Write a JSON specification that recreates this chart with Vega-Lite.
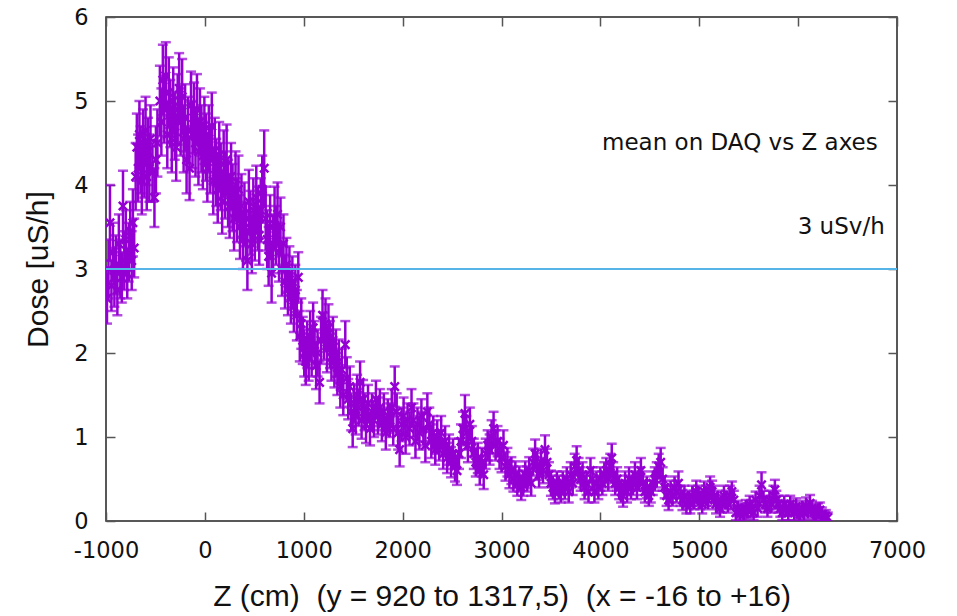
{
"$schema":"https://vega.github.io/schema/vega-lite/v6.json",
"width":791,"height":504,
"autosize":{"type":"none"},
"padding":{"left":106,"top":17,"right":60,"bottom":95},
"background":"white",
"config":{"view":{"stroke":"#222","strokeWidth":1.5},
"axis":{"domain":false,"grid":false,"tickSize":-9,"tickColor":"#555","tickWidth":1.5,"labelFlush":false,"labelFont":"DejaVu Sans","labelFontSize":22.5,"labelColor":"#111","titleFont":"Liberation Sans","titleFontSize":30,"titleFontWeight":"normal","titleColor":"#111"}},
"datasets":{"pts":[
{"z":-990,"d":2.65,"e":0.3},{"z":-975,"d":3.0,"e":0.35},{"z":-960,"d":3.55,"e":0.45},{"z":-945,"d":2.8,"e":0.3},{"z":-930,"d":3.2,"e":0.35},{"z":-915,"d":2.9,"e":0.35},{"z":-900,"d":3.05,"e":0.35},{"z":-885,"d":2.75,"e":0.3},{"z":-870,"d":3.3,"e":0.35},{"z":-855,"d":3.0,"e":0.35},{"z":-840,"d":2.9,"e":0.3},{"z":-828,"d":3.75,"e":0.42},{"z":-815,"d":3.1,"e":0.35},{"z":-800,"d":3.35,"e":0.35},{"z":-785,"d":2.95,"e":0.3},{"z":-770,"d":3.2,"e":0.35},{"z":-755,"d":3.45,"e":0.35},{"z":-740,"d":3.1,"e":0.35},{"z":-728,"d":3.55,"e":0.4},{"z":-715,"d":3.25,"e":0.35},
{"z":-700,"d":4.1,"e":0.4},{"z":-688,"d":4.45,"e":0.4},{"z":-675,"d":4.2,"e":0.4},{"z":-662,"d":4.6,"e":0.4},{"z":-650,"d":4.3,"e":0.4},{"z":-638,"d":4.05,"e":0.4},{"z":-625,"d":4.5,"e":0.4},{"z":-612,"d":4.25,"e":0.4},{"z":-600,"d":4.65,"e":0.4},{"z":-588,"d":4.1,"e":0.4},{"z":-575,"d":4.4,"e":0.4},{"z":-562,"d":4.2,"e":0.4},{"z":-550,"d":4.55,"e":0.4},{"z":-530,"d":4.15,"e":0.35},{"z":-510,"d":3.85,"e":0.35},{"z":-495,"d":4.3,"e":0.4},{"z":-480,"d":4.5,"e":0.4},
{"z":-455,"d":5.0,"e":0.42},{"z":-440,"d":4.75,"e":0.4},{"z":-425,"d":5.25,"e":0.42},{"z":-410,"d":4.9,"e":0.4},{"z":-395,"d":5.3,"e":0.4},{"z":-380,"d":4.6,"e":0.4},{"z":-365,"d":5.1,"e":0.42},{"z":-350,"d":4.85,"e":0.4},{"z":-335,"d":4.55,"e":0.4},{"z":-320,"d":5.0,"e":0.4},{"z":-305,"d":4.7,"e":0.4},{"z":-290,"d":4.45,"e":0.4},{"z":-275,"d":4.9,"e":0.42},{"z":-260,"d":5.15,"e":0.42},{"z":-245,"d":4.75,"e":0.4},{"z":-230,"d":5.05,"e":0.45},{"z":-215,"d":4.55,"e":0.4},{"z":-200,"d":4.8,"e":0.4},{"z":-185,"d":4.3,"e":0.4},{"z":-170,"d":4.65,"e":0.4},{"z":-155,"d":4.2,"e":0.38},{"z":-140,"d":4.95,"e":0.4},{"z":-125,"d":4.6,"e":0.4},{"z":-110,"d":4.8,"e":0.42},{"z":-95,"d":4.5,"e":0.4},{"z":-80,"d":4.9,"e":0.42},{"z":-65,"d":4.4,"e":0.4},{"z":-50,"d":4.75,"e":0.4},{"z":-35,"d":4.55,"e":0.4},{"z":-20,"d":4.35,"e":0.4},{"z":-5,"d":4.65,"e":0.4},
{"z":10,"d":4.45,"e":0.4},{"z":25,"d":4.2,"e":0.4},{"z":40,"d":4.55,"e":0.4},{"z":55,"d":4.3,"e":0.4},{"z":70,"d":4.7,"e":0.4},{"z":85,"d":4.05,"e":0.4},{"z":100,"d":4.4,"e":0.4},{"z":115,"d":4.15,"e":0.4},{"z":130,"d":3.95,"e":0.4},{"z":145,"d":4.35,"e":0.4},{"z":160,"d":4.1,"e":0.4},{"z":175,"d":3.8,"e":0.38},{"z":190,"d":4.25,"e":0.4},{"z":205,"d":4.0,"e":0.4},{"z":220,"d":4.3,"e":0.42},{"z":235,"d":3.9,"e":0.4},{"z":250,"d":3.75,"e":0.38},{"z":265,"d":4.1,"e":0.4},{"z":280,"d":3.85,"e":0.4},{"z":295,"d":3.6,"e":0.38},{"z":310,"d":4.0,"e":0.4},{"z":325,"d":3.7,"e":0.38},{"z":340,"d":3.95,"e":0.4},{"z":355,"d":3.5,"e":0.38},{"z":370,"d":3.75,"e":0.38},{"z":385,"d":3.35,"e":0.35},{"z":400,"d":3.65,"e":0.38},{"z":415,"d":3.45,"e":0.35},{"z":430,"d":3.1,"e":0.35},{"z":445,"d":3.8,"e":0.38},{"z":460,"d":3.55,"e":0.38},{"z":475,"d":3.3,"e":0.35},{"z":490,"d":3.7,"e":0.38},{"z":505,"d":3.45,"e":0.35},{"z":520,"d":3.85,"e":0.38},{"z":535,"d":3.6,"e":0.38},{"z":550,"d":3.4,"e":0.35},{"z":565,"d":3.7,"e":0.38},{"z":580,"d":3.95,"e":0.4},{"z":600,"d":4.2,"e":0.45},{"z":615,"d":3.6,"e":0.38},{"z":630,"d":3.35,"e":0.35},{"z":645,"d":3.15,"e":0.35},{"z":660,"d":3.5,"e":0.38},{"z":675,"d":2.95,"e":0.35},{"z":690,"d":3.3,"e":0.35},{"z":705,"d":3.6,"e":0.38},{"z":720,"d":3.4,"e":0.35},{"z":735,"d":3.65,"e":0.38},{"z":750,"d":3.2,"e":0.35},{"z":765,"d":3.5,"e":0.35},{"z":780,"d":3.0,"e":0.32},{"z":795,"d":3.3,"e":0.35},{"z":810,"d":2.85,"e":0.32},{"z":825,"d":3.05,"e":0.32},{"z":840,"d":2.75,"e":0.3},{"z":855,"d":2.95,"e":0.32},{"z":870,"d":2.65,"e":0.3},{"z":885,"d":2.85,"e":0.3},{"z":900,"d":2.55,"e":0.3},{"z":915,"d":2.75,"e":0.3},{"z":930,"d":2.45,"e":0.3},{"z":945,"d":2.9,"e":0.3},{"z":960,"d":2.2,"e":0.3},{"z":975,"d":2.35,"e":0.3},{"z":990,"d":2.15,"e":0.28},
{"z":1005,"d":2.0,"e":0.28},{"z":1020,"d":1.9,"e":0.28},{"z":1035,"d":2.1,"e":0.28},{"z":1050,"d":1.95,"e":0.28},{"z":1065,"d":2.2,"e":0.3},{"z":1080,"d":2.0,"e":0.28},{"z":1095,"d":2.3,"e":0.3},{"z":1110,"d":2.1,"e":0.28},{"z":1125,"d":1.85,"e":0.28},{"z":1140,"d":2.0,"e":0.28},{"z":1160,"d":1.65,"e":0.25},{"z":1175,"d":2.15,"e":0.28},{"z":1190,"d":2.45,"e":0.3},{"z":1205,"d":2.2,"e":0.28},{"z":1220,"d":2.35,"e":0.3},{"z":1235,"d":2.05,"e":0.28},{"z":1250,"d":2.3,"e":0.28},{"z":1265,"d":2.1,"e":0.28},{"z":1280,"d":1.95,"e":0.28},{"z":1295,"d":2.15,"e":0.28},{"z":1310,"d":1.85,"e":0.26},{"z":1325,"d":2.0,"e":0.28},{"z":1340,"d":1.75,"e":0.25},{"z":1355,"d":1.9,"e":0.26},{"z":1370,"d":1.6,"e":0.25},{"z":1385,"d":1.8,"e":0.25},{"z":1400,"d":1.5,"e":0.24},{"z":1420,"d":2.1,"e":0.28},{"z":1435,"d":1.7,"e":0.25},{"z":1450,"d":1.45,"e":0.24},{"z":1465,"d":1.6,"e":0.24},{"z":1480,"d":1.3,"e":0.22},{"z":1495,"d":1.1,"e":0.22},{"z":1510,"d":1.4,"e":0.23},{"z":1525,"d":1.25,"e":0.22},{"z":1540,"d":1.5,"e":0.24},{"z":1555,"d":1.35,"e":0.22},{"z":1570,"d":1.65,"e":0.25},{"z":1585,"d":1.2,"e":0.22},{"z":1600,"d":1.45,"e":0.23},{"z":1615,"d":1.3,"e":0.22},{"z":1630,"d":1.15,"e":0.22},{"z":1650,"d":1.4,"e":0.22},{"z":1670,"d":1.1,"e":0.2},{"z":1690,"d":1.3,"e":0.22},{"z":1710,"d":1.2,"e":0.2},{"z":1730,"d":1.45,"e":0.22},{"z":1750,"d":1.25,"e":0.22},{"z":1770,"d":1.35,"e":0.22},{"z":1790,"d":1.15,"e":0.2},{"z":1810,"d":1.3,"e":0.22},{"z":1830,"d":1.05,"e":0.2},{"z":1850,"d":1.25,"e":0.2},{"z":1870,"d":1.2,"e":0.2},{"z":1890,"d":1.35,"e":0.22},{"z":1905,"d":1.1,"e":0.2},{"z":1920,"d":1.6,"e":0.24},{"z":1940,"d":1.3,"e":0.22},{"z":1955,"d":1.05,"e":0.2},{"z":1970,"d":0.85,"e":0.2},{"z":1990,"d":1.15,"e":0.2},
{"z":2010,"d":1.25,"e":0.22},{"z":2030,"d":1.0,"e":0.2},{"z":2050,"d":1.2,"e":0.2},{"z":2070,"d":1.1,"e":0.2},{"z":2090,"d":1.35,"e":0.22},{"z":2110,"d":1.2,"e":0.2},{"z":2130,"d":0.95,"e":0.2},{"z":2150,"d":1.15,"e":0.2},{"z":2170,"d":1.05,"e":0.2},{"z":2190,"d":1.25,"e":0.2},{"z":2210,"d":1.1,"e":0.2},{"z":2230,"d":0.9,"e":0.2},{"z":2250,"d":1.3,"e":0.22},{"z":2270,"d":1.15,"e":0.2},{"z":2290,"d":0.95,"e":0.2},{"z":2310,"d":1.05,"e":0.2},{"z":2330,"d":0.85,"e":0.18},{"z":2350,"d":1.0,"e":0.2},{"z":2370,"d":0.9,"e":0.18},{"z":2390,"d":1.05,"e":0.2},{"z":2410,"d":0.8,"e":0.18},{"z":2430,"d":0.95,"e":0.18},{"z":2450,"d":0.75,"e":0.18},{"z":2470,"d":0.85,"e":0.18},{"z":2490,"d":0.7,"e":0.18},{"z":2510,"d":0.8,"e":0.18},{"z":2530,"d":0.65,"e":0.18},{"z":2550,"d":0.6,"e":0.17},{"z":2570,"d":0.8,"e":0.18},{"z":2590,"d":0.95,"e":0.2},{"z":2610,"d":1.1,"e":0.2},{"z":2630,"d":1.28,"e":0.22},{"z":2645,"d":1.05,"e":0.2},{"z":2660,"d":0.9,"e":0.2},{"z":2680,"d":1.15,"e":0.2},{"z":2700,"d":0.95,"e":0.18},{"z":2720,"d":0.8,"e":0.18},{"z":2740,"d":0.7,"e":0.17},{"z":2760,"d":0.75,"e":0.18},{"z":2780,"d":0.6,"e":0.17},{"z":2800,"d":0.7,"e":0.17},{"z":2820,"d":0.55,"e":0.17},{"z":2840,"d":0.8,"e":0.18},{"z":2860,"d":0.9,"e":0.18},{"z":2880,"d":0.85,"e":0.18},{"z":2900,"d":1.0,"e":0.2},{"z":2920,"d":1.1,"e":0.2},{"z":2940,"d":0.9,"e":0.18},{"z":2960,"d":0.95,"e":0.18},{"z":2980,"d":0.8,"e":0.18},
{"z":3000,"d":0.75,"e":0.17},{"z":3020,"d":0.9,"e":0.18},{"z":3040,"d":0.65,"e":0.17},{"z":3060,"d":0.7,"e":0.17},{"z":3080,"d":0.55,"e":0.16},{"z":3100,"d":0.6,"e":0.16},{"z":3120,"d":0.5,"e":0.15},{"z":3140,"d":0.55,"e":0.16},{"z":3160,"d":0.45,"e":0.15},{"z":3180,"d":0.5,"e":0.15},{"z":3200,"d":0.4,"e":0.15},{"z":3220,"d":0.45,"e":0.15},{"z":3240,"d":0.55,"e":0.16},{"z":3260,"d":0.5,"e":0.15},{"z":3280,"d":0.6,"e":0.16},{"z":3300,"d":0.45,"e":0.15},{"z":3320,"d":0.7,"e":0.16},{"z":3340,"d":0.8,"e":0.17},{"z":3360,"d":0.65,"e":0.16},{"z":3380,"d":0.55,"e":0.15},{"z":3400,"d":0.7,"e":0.16},{"z":3420,"d":0.6,"e":0.15},{"z":3440,"d":0.85,"e":0.17},{"z":3460,"d":0.7,"e":0.16},{"z":3480,"d":0.55,"e":0.15},{"z":3500,"d":0.45,"e":0.15},{"z":3520,"d":0.4,"e":0.14},{"z":3540,"d":0.35,"e":0.14},{"z":3560,"d":0.45,"e":0.14},{"z":3580,"d":0.4,"e":0.14},{"z":3600,"d":0.35,"e":0.13},{"z":3620,"d":0.45,"e":0.14},{"z":3640,"d":0.4,"e":0.14},{"z":3660,"d":0.5,"e":0.14},{"z":3680,"d":0.35,"e":0.13},{"z":3700,"d":0.55,"e":0.15},{"z":3720,"d":0.45,"e":0.14},{"z":3740,"d":0.65,"e":0.15},{"z":3760,"d":0.72,"e":0.17},{"z":3780,"d":0.6,"e":0.15},{"z":3800,"d":0.5,"e":0.14},{"z":3820,"d":0.55,"e":0.15},{"z":3840,"d":0.4,"e":0.14},{"z":3860,"d":0.45,"e":0.14},{"z":3880,"d":0.35,"e":0.13},{"z":3900,"d":0.6,"e":0.15},{"z":3920,"d":0.5,"e":0.14},{"z":3940,"d":0.35,"e":0.13},{"z":3960,"d":0.45,"e":0.14},{"z":3980,"d":0.4,"e":0.14},
{"z":4000,"d":0.5,"e":0.14},{"z":4020,"d":0.45,"e":0.14},{"z":4040,"d":0.55,"e":0.15},{"z":4060,"d":0.6,"e":0.15},{"z":4080,"d":0.5,"e":0.14},{"z":4100,"d":0.65,"e":0.15},{"z":4115,"d":0.75,"e":0.17},{"z":4130,"d":0.55,"e":0.15},{"z":4150,"d":0.45,"e":0.14},{"z":4170,"d":0.5,"e":0.14},{"z":4190,"d":0.4,"e":0.14},{"z":4210,"d":0.35,"e":0.13},{"z":4230,"d":0.3,"e":0.13},{"z":4250,"d":0.45,"e":0.14},{"z":4270,"d":0.35,"e":0.13},{"z":4290,"d":0.5,"e":0.14},{"z":4310,"d":0.4,"e":0.14},{"z":4330,"d":0.45,"e":0.14},{"z":4350,"d":0.55,"e":0.15},{"z":4370,"d":0.4,"e":0.14},{"z":4390,"d":0.5,"e":0.14},{"z":4410,"d":0.6,"e":0.15},{"z":4430,"d":0.45,"e":0.14},{"z":4450,"d":0.35,"e":0.13},{"z":4470,"d":0.4,"e":0.13},{"z":4490,"d":0.3,"e":0.12},{"z":4510,"d":0.35,"e":0.13},{"z":4530,"d":0.45,"e":0.14},{"z":4550,"d":0.5,"e":0.14},{"z":4570,"d":0.55,"e":0.15},{"z":4590,"d":0.65,"e":0.15},{"z":4610,"d":0.7,"e":0.17},{"z":4630,"d":0.5,"e":0.14},{"z":4650,"d":0.4,"e":0.13},{"z":4670,"d":0.3,"e":0.12},{"z":4690,"d":0.25,"e":0.12},{"z":4710,"d":0.35,"e":0.13},{"z":4730,"d":0.3,"e":0.12},{"z":4750,"d":0.4,"e":0.13},{"z":4770,"d":0.35,"e":0.13},{"z":4790,"d":0.45,"e":0.14},{"z":4810,"d":0.3,"e":0.12},{"z":4830,"d":0.25,"e":0.12},{"z":4850,"d":0.3,"e":0.12},{"z":4870,"d":0.2,"e":0.11},{"z":4890,"d":0.25,"e":0.11},{"z":4910,"d":0.2,"e":0.11},{"z":4930,"d":0.3,"e":0.12},{"z":4950,"d":0.25,"e":0.11},{"z":4970,"d":0.35,"e":0.13},{"z":4990,"d":0.3,"e":0.12},
{"z":5010,"d":0.25,"e":0.11},{"z":5030,"d":0.2,"e":0.11},{"z":5050,"d":0.35,"e":0.12},{"z":5070,"d":0.3,"e":0.12},{"z":5090,"d":0.25,"e":0.11},{"z":5110,"d":0.4,"e":0.13},{"z":5130,"d":0.35,"e":0.13},{"z":5150,"d":0.3,"e":0.12},{"z":5170,"d":0.2,"e":0.11},{"z":5190,"d":0.25,"e":0.11},{"z":5210,"d":0.15,"e":0.1},{"z":5230,"d":0.2,"e":0.1},{"z":5250,"d":0.3,"e":0.12},{"z":5270,"d":0.25,"e":0.11},{"z":5290,"d":0.2,"e":0.1},{"z":5310,"d":0.3,"e":0.12},{"z":5330,"d":0.35,"e":0.12},{"z":5350,"d":0.25,"e":0.11},{"z":5370,"d":0.1,"e":0.09},{"z":5390,"d":0.15,"e":0.09},{"z":5410,"d":0.08,"e":0.08},{"z":5430,"d":0.12,"e":0.09},{"z":5450,"d":0.1,"e":0.09},{"z":5470,"d":0.15,"e":0.1},{"z":5490,"d":0.12,"e":0.09},{"z":5510,"d":0.2,"e":0.1},{"z":5530,"d":0.15,"e":0.1},{"z":5550,"d":0.1,"e":0.09},{"z":5570,"d":0.25,"e":0.1},{"z":5590,"d":0.15,"e":0.1},{"z":5610,"d":0.3,"e":0.12},{"z":5630,"d":0.43,"e":0.15},{"z":5650,"d":0.25,"e":0.11},{"z":5670,"d":0.2,"e":0.1},{"z":5690,"d":0.15,"e":0.1},{"z":5710,"d":0.25,"e":0.11},{"z":5730,"d":0.2,"e":0.1},{"z":5750,"d":0.3,"e":0.12},{"z":5765,"d":0.37,"e":0.12},{"z":5780,"d":0.25,"e":0.11},{"z":5800,"d":0.2,"e":0.1},{"z":5820,"d":0.15,"e":0.1},{"z":5840,"d":0.1,"e":0.09},{"z":5860,"d":0.2,"e":0.1},{"z":5880,"d":0.15,"e":0.09},{"z":5900,"d":0.1,"e":0.09},{"z":5920,"d":0.2,"e":0.1},{"z":5940,"d":0.15,"e":0.09},{"z":5960,"d":0.1,"e":0.09},{"z":5980,"d":0.17,"e":0.1},
{"z":6000,"d":0.12,"e":0.09},{"z":6020,"d":0.08,"e":0.08},{"z":6040,"d":0.15,"e":0.09},{"z":6060,"d":0.1,"e":0.09},{"z":6080,"d":0.18,"e":0.1},{"z":6100,"d":0.12,"e":0.09},{"z":6120,"d":0.21,"e":0.1},{"z":6140,"d":0.15,"e":0.09},{"z":6160,"d":0.1,"e":0.09},{"z":6180,"d":0.08,"e":0.08},{"z":6200,"d":0.12,"e":0.09},{"z":6220,"d":0.13,"e":0.09},{"z":6240,"d":0.08,"e":0.08},{"z":6260,"d":0.05,"e":0.07},{"z":6280,"d":0.06,"e":0.07},{"z":6300,"d":0.04,"e":0.06}
]},
"layer":[
{"data":{"name":"pts"},
 "mark":{"type":"errorbar","ticks":{"size":10},"thickness":2.5,"color":"#9400d3","clip":true},
 "encoding":{
  "x":{"field":"z","type":"quantitative","scale":{"domain":[-1000,7000],"nice":false},
       "axis":{"orient":"bottom","values":[-1000,0,1000,2000,3000,4000,5000,6000,7000],"labelExpr":"'' + datum.value","labelPadding":27,"title":"Z (cm)\u00a0 (y = 920 to 1317,5)\u00a0 (x = -16 to +16)","titlePadding":20}},
  "y":{"field":"d","type":"quantitative","scale":{"domain":[0,6],"nice":false},
       "axis":{"orient":"left","values":[0,1,2,3,4,5,6],"labelExpr":"'' + datum.value","labelPadding":27,"title":"Dose [uS/h]","titlePadding":20}},
  "yError":{"field":"e"}}},
{"data":{"name":"pts"},
 "mark":{"type":"point","shape":"M-1,-1L1,1M-1,1L1,-1","filled":false,"strokeWidth":2.5,"size":70,"color":"#9400d3","opacity":1,"clip":true},
 "encoding":{
  "x":{"field":"z","type":"quantitative","axis":{"orient":"top","labels":false,"title":null,"values":[-1000,0,1000,2000,3000,4000,5000,6000,7000]}},
  "y":{"field":"d","type":"quantitative","axis":{"orient":"right","labels":false,"title":null,"values":[0,1,2,3,4,5,6]}}}},
{"data":{"values":[{}]},
 "mark":{"type":"rule","color":"#56b4e9","strokeWidth":2.2},
 "encoding":{"y":{"datum":3,"type":"quantitative","axis":null}}},
{"data":{"values":[{}]},
 "mark":{"type":"text","align":"right","baseline":"middle","font":"DejaVu Sans","fontSize":23,"color":"#111"},
 "encoding":{"x":{"datum":6805,"type":"quantitative","axis":null},"y":{"datum":4.5,"type":"quantitative","axis":null},"text":{"value":"mean on DAQ vs Z axes"}}},
{"data":{"values":[{}]},
 "mark":{"type":"text","align":"right","baseline":"middle","font":"DejaVu Sans","fontSize":23,"color":"#111"},
 "encoding":{"x":{"datum":6876,"type":"quantitative","axis":null},"y":{"datum":3.5,"type":"quantitative","axis":null},"text":{"value":"3 uSv/h"}}}
],
"resolve":{"axis":{"x":"independent","y":"independent"}}
}
